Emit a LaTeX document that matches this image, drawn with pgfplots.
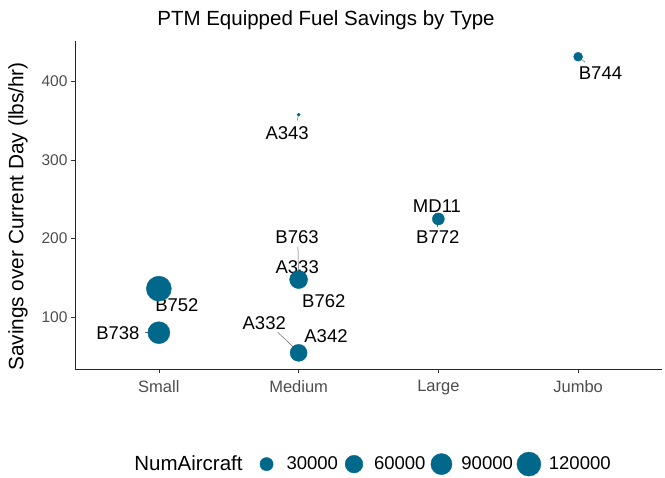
\documentclass[border=0pt]{standalone}
\usepackage{fontspec}
\setmainfont{Liberation Sans}
\usepackage{pgfplots}
\usepackage{pgfplotstable}
\pgfplotsset{compat=1.18}
\definecolor{pt}{HTML}{00688B}
\definecolor{tickgray}{HTML}{4D4D4D}
\definecolor{seg}{HTML}{666666}

% type index (1=Small,2=Medium,3=Large,4=Jumbo), savings, NumAircraft
\pgfplotstableread{
x y num label
1 80.6 98700 B738
1 136.5 131000 B752
2 357.5 100 A343
2 148 30000 B763
2 148 62500 A333
2 148 20000 B762
2 55 40000 A332
2 55 54700 A342
3 225 15000 MD11
3 225 23700 B772
4 431 11200 B744
}\data

\pgfplotsset{bubleg/.style={mark=*, mark options={draw=pt, fill=pt}, mark size=#1,
  legend image code/.code={\path[draw=none, fill=none] (-12pt,0pt) rectangle (12pt,0pt);
    \path[draw=none, mark=*, mark options={draw=pt, fill=pt}, mark size=#1] plot coordinates {(0pt,0pt)};}}}

\begin{document}
\begin{tikzpicture}[x=1pt,y=1pt]
\path[use as bounding box] (0,0) rectangle (665,478);
\coordinate (ax) at (75pt,109pt);
\begin{axis}[
  at={(ax)}, anchor=south west,
  scale only axis, width=587pt, height=328pt,
  xmin=0.4, xmax=4.6, ymin=34.5, ymax=451,
  axis lines=left,
  axis line style={-, black!85, line width=0.7pt},
  xtick={1,2,3,4}, xticklabels={Small,Medium,Large,Jumbo},
  ytick={100,200,300,400},
  tick align=outside, major tick length=4pt,
  tick style={black!80, line width=0.7pt},
  yticklabel style={font=\fontsize{15.5}{15.5}\selectfont, text=tickgray},
  xticklabel style={font=\fontsize{16.5}{16.5}\selectfont, text=tickgray, yshift=-4pt},
  /pgf/number format/assume math mode=true,
  ylabel={Savings over Current Day (lbs/hr)},
  ylabel style={font=\fontsize{20.8}{20.8}\selectfont, at={(axis description cs:-0.097,0.465)}, anchor=center},
  clip=false,
  legend style={at={(axis description cs:0.5,-0.29)}, anchor=center, draw=none, legend columns=-1,
    font=\fontsize{15}{15}\selectfont, nodes={inner sep=0pt},
    /tikz/every odd column/.append style={column sep=8pt},
    /tikz/every even column/.append style={column sep=4pt}},
  legend cell align=left,
  nodes={font=\fontsize{18.5}{18.5}\selectfont},
]
\addplot[scatter, only marks, mark=*, forget plot,
  point meta={sqrt(\thisrow{num})}, point meta min=0, point meta max=400,
  scatter/use mapped color={draw=pt, fill=pt},
  scatter/@pre marker code/.append style={/tikz/mark size=1.2+0.01248*\pgfplotspointmetatransformed}]
  table[x=x, y=y] {\data};

\addlegendimage{empty legend}
\addlegendentry{\fontsize{20.5}{20.5}\selectfont NumAircraft\hspace{8pt}\mbox{}}
\addlegendimage{bubleg=6.6}
\addlegendentry{30000}
\addlegendimage{bubleg=8.84}
\addlegendentry{60000}
\addlegendimage{bubleg=10.56}
\addlegendentry{90000}
\addlegendimage{bubleg=12}
\addlegendentry{120000}

% leader segments
\draw[seg, line width=0.5pt] (axis cs:0.9,80.6) -- (axis cs:0.98,80.6);
\draw[seg, line width=0.5pt] (axis cs:1.01,135) -- (axis cs:1.04,128);
\draw[seg, line width=0.5pt] (axis cs:2,357.5) -- (axis cs:1.99,350);
\draw[seg, line width=0.5pt] (axis cs:1.995,190) -- (axis cs:2,146);
\draw[seg, line width=0.5pt] (axis cs:1.85,81.2) -- (axis cs:1.993,57.1);
\draw[seg, line width=0.5pt] (axis cs:2,55) -- (axis cs:2.04,64);
\draw[seg, line width=0.5pt] (axis cs:2.99,229) -- (axis cs:2.99,215);
\draw[seg, line width=0.5pt] (axis cs:4,431) -- (axis cs:4.05,424);

% labels
\node at (axis cs:0.707,80.6) {B738};
\node at (axis cs:1.129,116) {B752};
\node at (axis cs:1.918,334.5) {A343};
\node at (axis cs:1.989,202.5) {B763};
\node at (axis cs:1.99,164.4) {A333};
\node at (axis cs:2.18,120.3) {B762};
\node at (axis cs:1.754,92.3) {A332};
\node at (axis cs:2.196,75.9) {A342};
\node at (axis cs:2.99,241) {MD11};
\node at (axis cs:2.996,202.2) {B772};
\node at (axis cs:4.16,410.5) {B744};
\end{axis}
\node at (326,458) {\fontsize{20.5}{20.5}\selectfont PTM Equipped Fuel Savings by Type};
\end{tikzpicture}
\end{document}
